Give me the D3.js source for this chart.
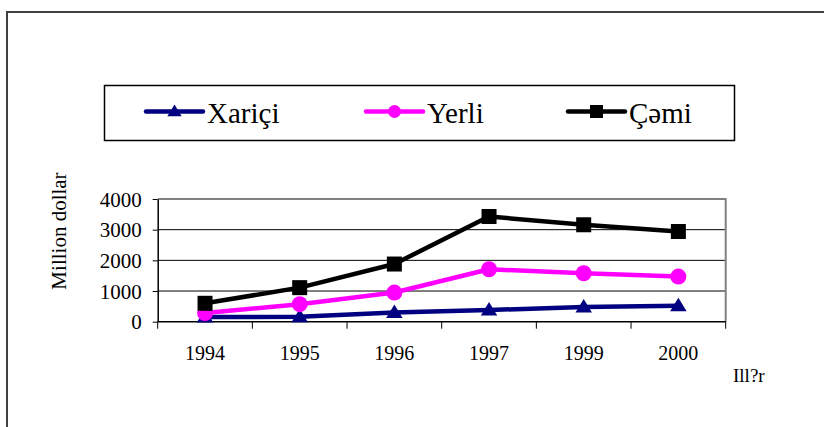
<!DOCTYPE html>
<html>
<head>
<meta charset="utf-8">
<script src="https://cdn.jsdelivr.net/npm/d3@7"></script>
<style>
  body { margin: 0; background: #fff; }
  svg { display: block; }
  text { font-family: 'Liberation Serif', 'Times New Roman', Tinos, 'Nimbus Roman', 'DejaVu Serif', serif; fill: #000; }
</style>
</head>
<body>
<div id="chart"></div>
<script>
const years = ['1994', '1995', '1996', '1997', '1999', '2000']
const xarici = [150, 160, 300, 380, 480, 520]
const yerli = [280, 570, 950, 1710, 1580, 1470]
const cemi = [600, 1110, 1880, 3430, 3160, 2940]
const yTicks = [0, 1000, 2000, 3000, 4000]

const series = [
  { name: 'Xariçi', values: xarici, color: '#000080', marker: 'triangle' },
  { name: 'Yerli', values: yerli, color: '#ff00ff', marker: 'circle' },
  { name: 'Çəmi', values: cemi, color: '#000000', marker: 'square' }
]

const W = 824, H = 427
const plot = { left: 157.7, right: 725.7, top: 199, bottom: 321.7 }
const FONT = "'Liberation Serif', 'Times New Roman', Tinos, 'Nimbus Roman', 'DejaVu Serif', serif"

const svg = d3.select('#chart').append('svg')
  .attr('width', W)
  .attr('height', H)

// outer frame (runs off the right and bottom edges)
svg.append('rect')
  .attr('x', 7).attr('y', 12)
  .attr('width', 900).attr('height', 500)
  .attr('fill', 'none')
  .attr('stroke', '#404040')
  .attr('stroke-width', 2)

const x = d3.scaleBand()
  .domain(years)
  .range([plot.left, plot.right])

const y = d3.scaleLinear()
  .domain([0, 4000])
  .range([plot.bottom, plot.top])

const cx = d => x(d) + x.bandwidth() / 2

// gridlines
svg.append('g')
  .selectAll('line')
  .data(yTicks.filter(d => d > 0 && d < 4000))
  .enter().append('line')
  .attr('x1', plot.left).attr('x2', plot.right)
  .attr('y1', d => y(d)).attr('y2', d => y(d))
  .attr('stroke', '#000')
  .attr('stroke-width', 1)

// plot area border: top and right in grey
svg.append('path')
  .attr('d', `M${plot.left},${y(4000)}H${plot.right}V${plot.bottom}`)
  .attr('fill', 'none')
  .attr('stroke', '#808080')
  .attr('stroke-width', 2)

// Y axis
svg.append('g')
  .attr('transform', `translate(${plot.left},0)`)
  .attr('font-family', FONT)
  .call(d3.axisLeft(y).tickValues(yTicks).tickFormat(d3.format('d'))
    .tickSize(5).tickPadding(11).tickSizeOuter(0))
  .call(sel => sel.select('.domain').attr('stroke', '#000').attr('stroke-width', 1.5))
  .call(sel => sel.selectAll('.tick line').attr('stroke', '#000'))
  .call(sel => sel.selectAll('.tick text')
    .style('font-size', '21px')
    .style('font-family', FONT)
    .attr('dy', '0.34em'))

// X axis: ticks on category boundaries
const xAxis = svg.append('g')
  .attr('transform', `translate(0,${plot.bottom})`)

xAxis.append('line')
  .attr('x1', plot.left).attr('x2', plot.right)
  .attr('stroke', '#000').attr('stroke-width', 1.5)

xAxis.selectAll('.bt')
  .data(years.concat(['end']))
  .enter().append('line')
  .attr('x1', (d, i) => i < years.length ? x(d) : plot.right)
  .attr('x2', (d, i) => i < years.length ? x(d) : plot.right)
  .attr('y1', 0).attr('y2', 7)
  .attr('stroke', '#000')

xAxis.selectAll('.lbl')
  .data(years)
  .enter().append('text')
  .attr('x', d => cx(d))
  .attr('y', 38)
  .attr('text-anchor', 'middle')
  .style('font-size', '20px')
  .text(d => d)

// axis titles
svg.append('text')
  .attr('transform', `translate(66,231) rotate(-90)`)
  .attr('text-anchor', 'middle')
  .style('font-size', '21px')
  .text('Million dollar')

svg.append('text')
  .attr('x', 733).attr('y', 382)
  .style('font-size', '19px')
  .text('Ill?r')

// markers
function drawMarker(g, type, size, color) {
  if (type === 'triangle') {
    const w = size * 1.1, h = size * 0.9
    g.append('path')
      .attr('d', `M0,${-h * 0.6}L${w / 2},${h * 0.4}L${-w / 2},${h * 0.4}Z`)
      .attr('fill', color)
  } else if (type === 'circle') {
    g.append('circle').attr('r', size / 2).attr('fill', color)
  } else {
    g.append('rect')
      .attr('x', -size / 2).attr('y', -size / 2)
      .attr('width', size).attr('height', size)
      .attr('fill', color)
  }
}

const line = d3.line()
  .x((d, i) => cx(years[i]))
  .y(d => y(d))

series.forEach(s => {
  svg.append('path')
    .attr('d', line(s.values))
    .attr('fill', 'none')
    .attr('stroke', s.color)
    .attr('stroke-width', 4.5)
    .attr('stroke-linejoin', 'round')

  s.values.forEach((v, i) => {
    const g = svg.append('g')
      .attr('transform', `translate(${cx(years[i])},${y(v)})`)
    drawMarker(g, s.marker, s.marker === 'circle' ? 16 : 15, s.color)
  })
})

// legend
svg.append('rect')
  .attr('x', 104.5).attr('y', 85.5)
  .attr('width', 630).attr('height', 55)
  .attr('fill', 'none')
  .attr('stroke', '#000')
  .attr('stroke-width', 1.5)

const legendX = [146, 366, 568]
series.forEach((s, i) => {
  const g = svg.append('g').attr('transform', `translate(${legendX[i]},111.5)`)
  g.append('line')
    .attr('x1', 0).attr('x2', 57)
    .attr('stroke', s.color)
    .attr('stroke-width', 4.5)
    .attr('stroke-linecap', 'round')
  const m = g.append('g').attr('transform', 'translate(28.5,0)')
  drawMarker(m, s.marker, 13, s.color)
  g.append('text')
    .attr('x', 61).attr('y', 11)
    .style('font-size', '29px')
    .text(s.name)
})
</script>
</body>
</html>
